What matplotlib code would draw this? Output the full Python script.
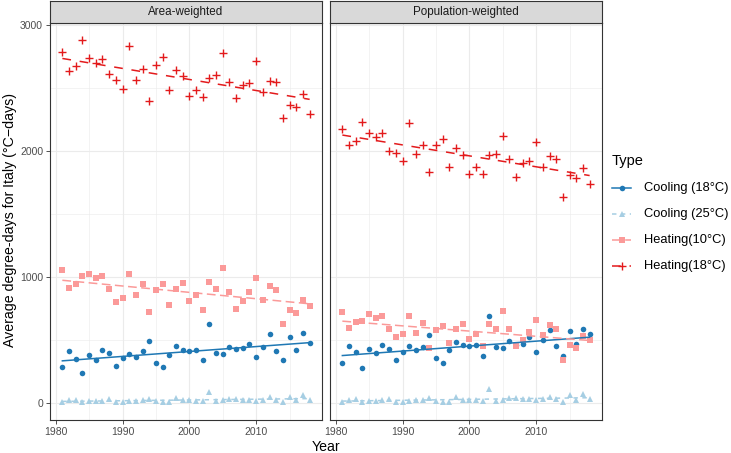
import numpy as np
import matplotlib
matplotlib.use("Agg")
import matplotlib.pyplot as plt
from matplotlib.lines import Line2D

plt.rcParams['font.family'] = ['Liberation Sans', 'DejaVu Sans']
plt.rcParams['lines.scale_dashes'] = False

years = np.arange(1981, 2019)
panels = ["Area-weighted", "Population-weighted"]
types = ["Cooling (18°C)", "Cooling (25°C)", "Heating(10°C)", "Heating(18°C)"]

# area-weighted
area_cool18 = [286, 413, 352, 241, 381, 344, 421, 399, 291, 360, 391, 365, 410, 492, 317, 286, 384, 450, 423,
               413, 421, 341, 624, 397, 386, 444, 426, 439, 471, 368, 447, 548, 410, 344, 526, 423, 553, 479]
area_cool25 = [8, 21, 26, 5, 13, 13, 18, 29, 10, 10, 16, 18, 21, 32, 13, 8, 8, 40, 21,
               21, 18, 16, 85, 13, 21, 34, 34, 26, 26, 18, 21, 50, 24, 8, 48, 21, 63, 26]
area_heat10 = [1053, 910, 947, 1010, 1026, 995, 1005, 905, 804, 833, 1026, 860, 947, 722, 899, 947, 780, 905, 955,
               809, 857, 741, 957, 905, 1074, 878, 746, 809, 878, 992, 815, 926, 894, 624, 741, 714, 820, 767]
area_heat18 = [2785, 2637, 2672, 2881, 2738, 2698, 2730, 2611, 2566, 2495, 2836, 2561, 2653, 2400, 2680, 2751,
               2487, 2645, 2598, 2434, 2487, 2429, 2579, 2606, 2778, 2548, 2418, 2526, 2540, 2719, 2468, 2553,
               2545, 2262, 2368, 2347, 2452, 2296]

# population-weighted
pop_cool18 = [320, 455, 402, 280, 431, 394, 458, 428, 339, 407, 455, 418, 444, 537, 354, 320, 423, 484, 458,
              452, 458, 370, 693, 444, 434, 489, 460, 466, 524, 405, 497, 577, 455, 370, 574, 471, 590, 550]
pop_cool25 = [8, 24, 32, 5, 16, 16, 24, 32, 10, 10, 18, 24, 24, 42, 16, 10, 10, 48, 24,
              24, 24, 18, 108, 18, 24, 42, 40, 32, 32, 24, 29, 48, 32, 8, 63, 21, 69, 34]
pop_heat10 = [725, 595, 640, 653, 704, 677, 688, 587, 526, 548, 690, 555, 632, 439, 579, 611, 479, 585, 630,
              505, 550, 450, 624, 590, 727, 585, 452, 503, 561, 659, 537, 619, 587, 344, 463, 439, 534, 503]
pop_heat18 = [2174, 2050, 2082, 2230, 2140, 2108, 2140, 2003, 1987, 1921, 2225, 1974, 2048, 1836, 2050, 2098,
              1876, 2021, 1966, 1815, 1876, 1818, 1968, 1976, 2122, 1939, 1796, 1902, 1921, 2071, 1870, 1960,
              1934, 1638, 1807, 1783, 1868, 1738]

data = {
    "Area-weighted": [area_cool18, area_cool25, area_heat10, area_heat18],
    "Population-weighted": [pop_cool18, pop_cool25, pop_heat10, pop_heat18],
}

colors = ["#1F78B4", "#A6CEE3", "#FB9A99", "#E31A1C"]
markers = ["o", "^", "s", "+"]
msizes = [4.0, 4.6, 3.9, 5.4]
dashes = [None, (3.2, 3.2), (6.3, 3.2), (6.3, 6.3)]

W, H = 731, 453
fig = plt.figure(figsize=(W / 100, H / 100), dpi=100)


def px(x0, y0, x1, y1):
    return [x0 / W, 1 - y1 / H, (x1 - x0) / W, (y1 - y0) / H]


lefts = [50, 330]
for i, panel in enumerate(panels):
    x0 = lefts[i]
    ax = fig.add_axes(px(x0, 23, x0 + 272, 420))
    ax.set_xlim(1979.15, 2019.85)
    ax.set_ylim(-135, 3017)
    ax.set_xticks([1980, 1990, 2000, 2010])
    ax.set_xticks([1985, 1995, 2005, 2015], minor=True)
    ax.set_yticks([0, 1000, 2000, 3000])
    ax.set_yticks([500, 1500, 2500], minor=True)
    ax.grid(which='major', color='#EBEBEB', linewidth=0.8)
    ax.grid(which='minor', color='#EBEBEB', linewidth=0.4)
    ax.set_axisbelow(True)
    ax.tick_params(which='major', length=2.75, width=0.6, color='#333333',
                   labelsize=7.5, labelcolor='#4D4D4D', pad=2.2)
    ax.tick_params(which='minor', length=0)
    if i > 0:
        ax.tick_params(axis='y', labelleft=False, length=0)
    for s in ax.spines.values():
        s.set_color('#333333')
        s.set_linewidth(0.8)

    for j, vals in enumerate(data[panel]):
        vals = np.array(vals, dtype=float)
        if markers[j] == "+":
            ax.plot(years, vals, linestyle='none', marker='+', ms=msizes[j],
                    mew=1.0, color=colors[j], zorder=3)
        else:
            ax.plot(years, vals, linestyle='none', marker=markers[j], ms=msizes[j],
                    mew=0, color=colors[j], zorder=3)
        k, b = np.polyfit(years, vals, 1)
        ln, = ax.plot(years, k * years + b, color=colors[j], lw=1.1, zorder=4)
        if dashes[j] is not None:
            ln.set_dashes(dashes[j])

    # facet strip
    sax = fig.add_axes(px(x0, 1, x0 + 272, 23))
    sax.set_facecolor('#D9D9D9')
    sax.set_xticks([])
    sax.set_yticks([])
    for s in sax.spines.values():
        s.set_color('#333333')
        s.set_linewidth(0.8)
    sax.text(0.5, 0.5, panel, ha='center', va='center', fontsize=8.4,
             color='#1A1A1A', transform=sax.transAxes)

fig.text(10 / W, 1 - 220 / H, "Average degree-days for Italy (°C\u2212days)", rotation=90,
         ha='center', va='center', fontsize=10.2)
fig.text(326 / W, 1 - 447 / H, "Year", ha='center', va='center', fontsize=10.2)

# legend, drawn by hand
fig.text(612 / W, 1 - 161 / H, "Type", ha='left', va='center', fontsize=10.5)
key_y = [188, 214, 240, 266]
for j in range(4):
    yy = 1 - key_y[j] / H
    ln = Line2D([612 / W, 631 / W], [yy, yy], color=colors[j], lw=1.1,
                transform=fig.transFigure)
    if dashes[j] is not None:
        ln.set_dashes(dashes[j])
    fig.add_artist(ln)
    mk = Line2D([621.5 / W], [yy], color=colors[j], marker=markers[j], ms=msizes[j],
                mew=1.0 if markers[j] == "+" else 0, linestyle='none',
                transform=fig.transFigure)
    fig.add_artist(mk)
    fig.text(644 / W, yy, types[j], ha='left', va='center', fontsize=9.3)

fig.savefig("out.png", dpi=100)
